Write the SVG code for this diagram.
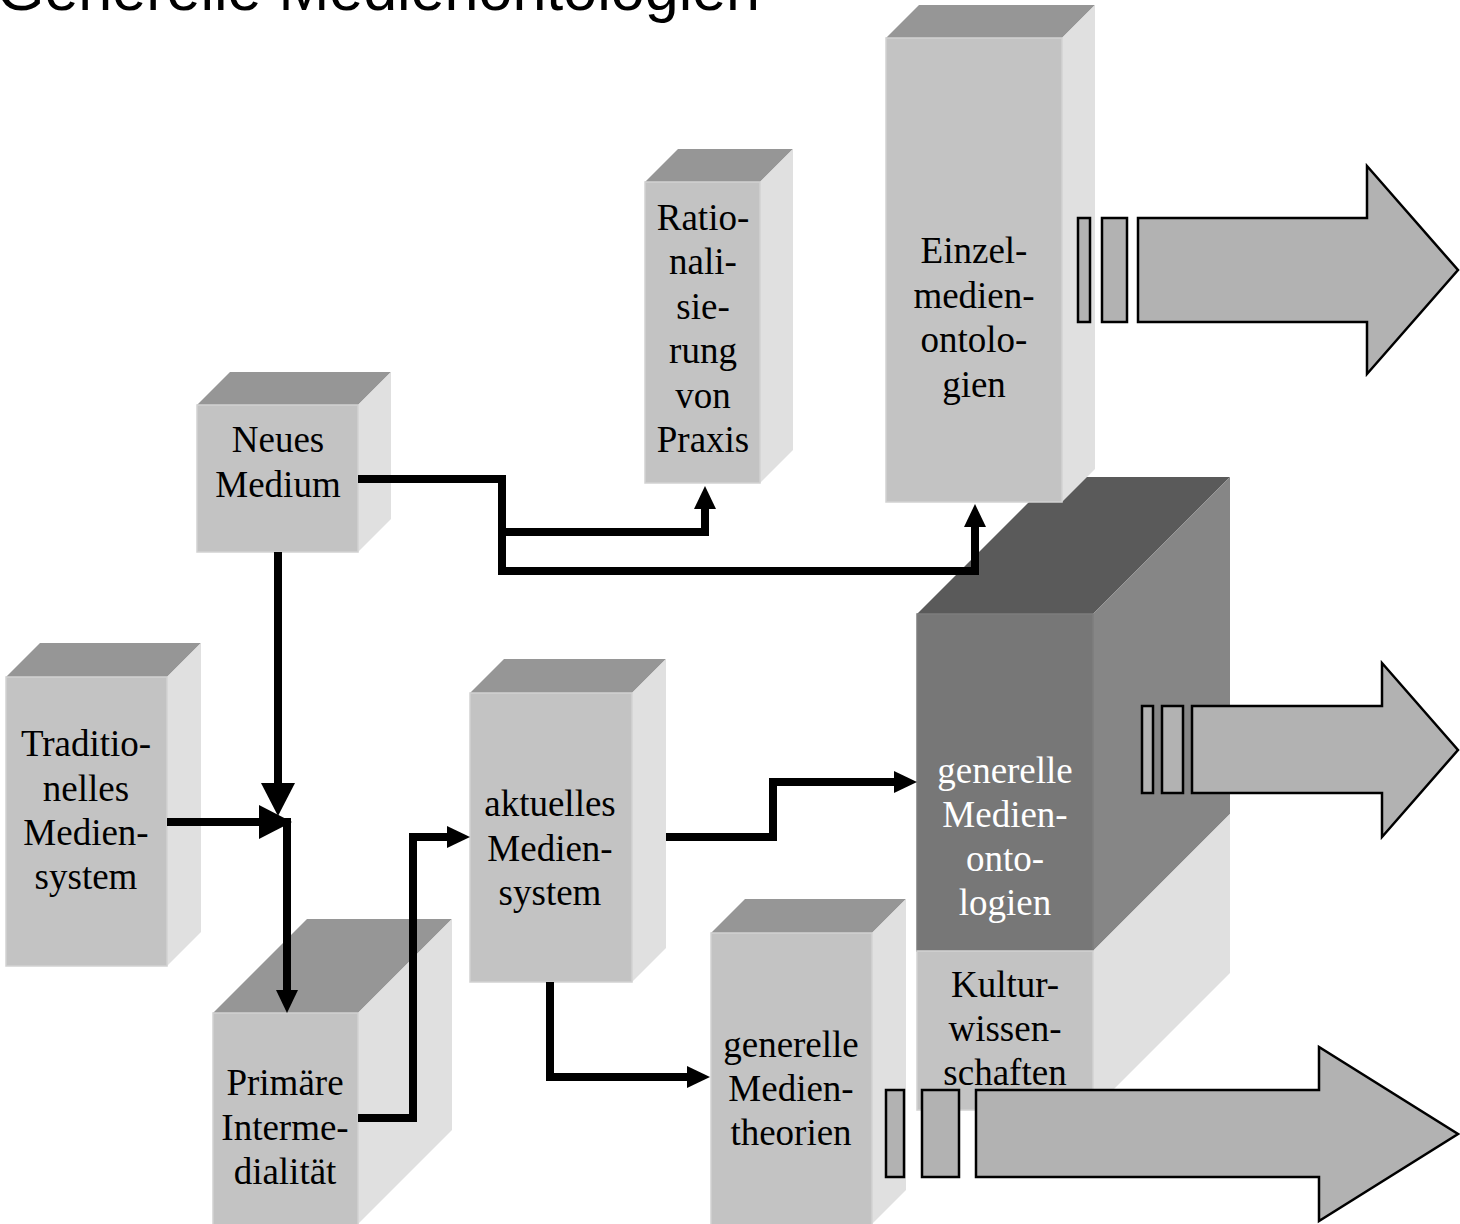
<svg xmlns="http://www.w3.org/2000/svg" width="1460" height="1224" viewBox="0 0 1460 1224">
<defs>
<style>
.front{fill:#c3c3c3;stroke:#d2d2d2;stroke-width:1.5}
.top{fill:#969696}
.side{fill:#e0e0e0}
.dfront{fill:#777777;stroke:#7e7e7e;stroke-width:1.5}
.dtop{fill:#5a5a5a}
.dside{fill:#868686}
.lbl{font-family:"Liberation Serif","Times New Roman",serif;font-size:37px;fill:#000;text-anchor:middle}
.wlbl{font-family:"Liberation Serif","Times New Roman",serif;font-size:37px;fill:#fff;text-anchor:middle}
.title{font-family:"Liberation Sans",Arial,sans-serif;font-size:61px;fill:#000}
.conn{fill:none;stroke:#000;stroke-width:8;stroke-linejoin:miter;stroke-linecap:butt}
.big{fill:#b2b2b2;stroke:#000;stroke-width:2.5;stroke-linejoin:miter}
</style>
<marker id="ah" markerUnits="userSpaceOnUse" markerWidth="23" markerHeight="22" viewBox="0 0 23 22" refX="1" refY="11" orient="auto">
<path d="M0,0 L23,11 L0,22 z" fill="#000"/>
</marker>
<marker id="ahL" markerUnits="userSpaceOnUse" markerWidth="33" markerHeight="34" viewBox="0 0 33 34" refX="1" refY="17" orient="auto">
<path d="M0,0 L33,17 L0,34 z" fill="#000"/>
</marker>
</defs>
<rect width="1460" height="1224" fill="#fff"/>
<text class="title" x="-3" y="10">Generelle Medienontologien</text>

<g id="node-generelle-medienontologien">
<polygon class="dtop" points="917,614 1054,477 1230,477 1093,614"/>
<polygon class="dside" points="1093,614 1230,477 1230,814 1093,951"/>
<rect class="dfront" x="917" y="614" width="176" height="337"/>
<text class="wlbl"><tspan x="1005" y="783">generelle</tspan><tspan x="1005" y="827">Medien-</tspan><tspan x="1005" y="871">onto-</tspan><tspan x="1005" y="915">logien</tspan></text>
</g>
<g id="node-kulturwissenschaften">
<polygon class="side" points="1093,951 1230,814 1230,973 1093,1110"/>
<rect class="front" x="917" y="951" width="176" height="159"/>
<text class="lbl"><tspan x="1005" y="997">Kultur-</tspan><tspan x="1005" y="1041">wissen-</tspan><tspan x="1005" y="1085">schaften</tspan></text>
</g>

<g id="node-einzelmedienontologien">
<polygon class="top" points="886,38 919,5 1095,5 1062,38"/>
<polygon class="side" points="1062,38 1095,5 1095,469 1062,502"/>
<rect class="front" x="886" y="38" width="176" height="464"/>
<text class="lbl"><tspan x="974" y="263">Einzel-</tspan><tspan x="974" y="308">medien-</tspan><tspan x="974" y="352">ontolo-</tspan><tspan x="974" y="397">gien</tspan></text>
</g>

<g id="node-rationalisierung">
<polygon class="top" points="645,182 678,149 793,149 760,182"/>
<polygon class="side" points="760,182 793,149 793,450 760,483"/>
<rect class="front" x="645" y="182" width="115" height="301"/>
<text class="lbl"><tspan x="703" y="230">Ratio-</tspan><tspan x="703" y="274">nali-</tspan><tspan x="703" y="319">sie-</tspan><tspan x="703" y="363">rung</tspan><tspan x="703" y="408">von</tspan><tspan x="703" y="452">Praxis</tspan></text>
</g>

<g id="node-neues-medium">
<polygon class="top" points="197,405 230,372 391,372 358,405"/>
<polygon class="side" points="358,405 391,372 391,519 358,552"/>
<rect class="front" x="197" y="405" width="161" height="147"/>
<text class="lbl"><tspan x="278" y="452">Neues</tspan><tspan x="278" y="497">Medium</tspan></text>
</g>

<g id="node-traditionelles-mediensystem">
<polygon class="top" points="6,677 40,643 201,643 167,677"/>
<polygon class="side" points="167,677 201,643 201,932 167,966"/>
<rect class="front" x="6" y="677" width="161" height="289"/>
<text class="lbl"><tspan x="86" y="756">Traditio-</tspan><tspan x="86" y="801">nelles</tspan><tspan x="86" y="845">Medien-</tspan><tspan x="86" y="889">system</tspan></text>
</g>

<g id="node-aktuelles-mediensystem">
<polygon class="top" points="470,693 504,659 666,659 632,693"/>
<polygon class="side" points="632,693 666,659 666,948 632,982"/>
<rect class="front" x="470" y="693" width="162" height="289"/>
<text class="lbl"><tspan x="550" y="816">aktuelles</tspan><tspan x="550" y="861">Medien-</tspan><tspan x="550" y="905">system</tspan></text>
</g>

<g id="node-primaere-intermedialitaet">
<polygon class="top" points="213,1013 307,919 452,919 358,1013"/>
<polygon class="side" points="358,1013 452,919 452,1130 358,1224"/>
<rect class="front" x="213" y="1013" width="145" height="213"/>
<text class="lbl"><tspan x="285" y="1095">Primäre</tspan><tspan x="285" y="1140">Interme-</tspan><tspan x="285" y="1184">dialität</tspan></text>
</g>

<g id="node-generelle-medientheorien">
<polygon class="top" points="711,933 745,899 906,899 872,933"/>
<polygon class="side" points="872,933 906,899 906,1190 872,1224"/>
<rect class="front" x="711" y="933" width="161" height="293"/>
<text class="lbl"><tspan x="791" y="1057">generelle</tspan><tspan x="791" y="1101">Medien-</tspan><tspan x="791" y="1145">theorien</tspan></text>
</g>

<g id="arrow-top">
<rect class="big" x="1078" y="218" width="12" height="104"/>
<rect class="big" x="1102" y="218" width="25" height="104"/>
<polygon class="big" points="1138,218 1367,218 1367,166 1458,270 1367,374 1367,322 1138,322"/>
</g>
<g id="arrow-middle">
<rect class="big" x="1142" y="706" width="11" height="87"/>
<rect class="big" x="1162" y="706" width="21" height="87"/>
<polygon class="big" points="1192,706 1382,706 1382,663 1458,750 1382,837 1382,793 1192,793"/>
</g>
<g id="arrow-bottom">
<rect class="big" x="886" y="1090" width="18" height="87"/>
<rect class="big" x="922" y="1090" width="37" height="87"/>
<polygon class="big" points="976,1090 1319,1090 1319,1047 1458,1134 1319,1221 1319,1177 976,1177"/>
</g>

<g id="connectors">
<path class="conn" d="M358,479 H502 V571 H975 V526" marker-end="url(#ah)"/>
<path class="conn" d="M502,532 H705 V508" marker-end="url(#ah)"/>
<path class="conn" d="M278,552 V784" marker-end="url(#ahL)"/>
<path class="conn" d="M167,822 H260" marker-end="url(#ahL)"/>
<path class="conn" d="M287,818 V991" marker-end="url(#ah)"/>
<path class="conn" d="M358,1118 H413 V837 H448" marker-end="url(#ah)"/>
<path class="conn" d="M666,837 H773 V782 H895" marker-end="url(#ah)"/>
<path class="conn" d="M550,982 V1077 H688" marker-end="url(#ah)"/>
</g>
</svg>
